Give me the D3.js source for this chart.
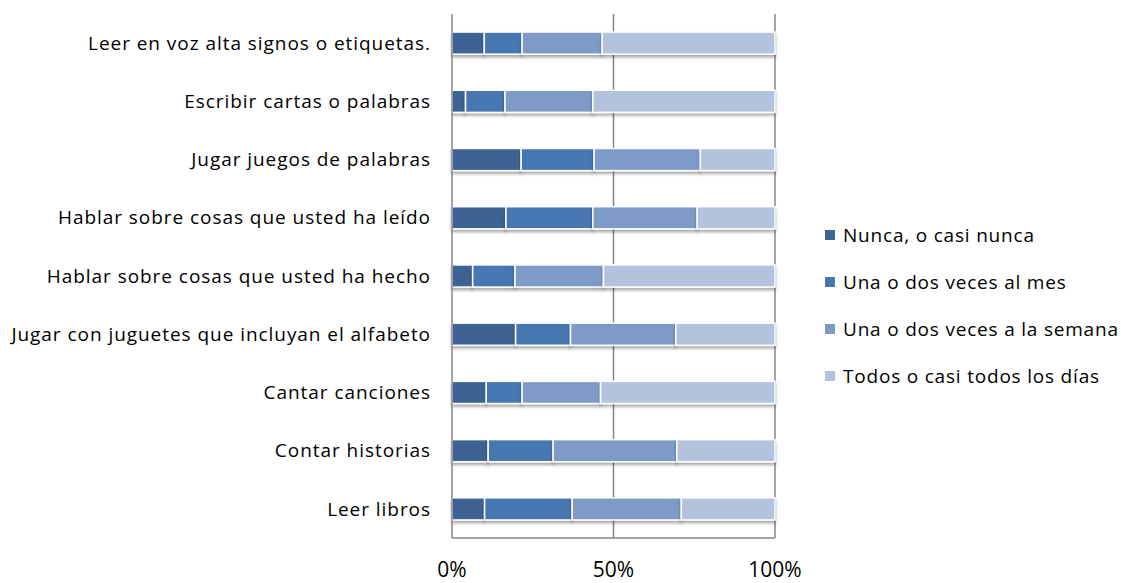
<!DOCTYPE html>
<html>
<head>
<meta charset="utf-8">
<script src="https://cdn.jsdelivr.net/npm/d3@7"></script>
<style>
  body { margin: 0; background: #fff; }
  text { font-family: "Open Sans", Lato, sans-serif; fill: #000; }
</style>
</head>
<body>
<div id="chart"></div>
<script>
// datos (porcentajes)
const categorias = [
  "Leer en voz alta signos o etiquetas.",
  "Escribir cartas o palabras",
  "Jugar juegos de palabras",
  "Hablar sobre cosas que usted ha leído",
  "Hablar sobre cosas que usted ha hecho",
  "Jugar con juguetes que incluyan el alfabeto",
  "Cantar canciones",
  "Contar historias",
  "Leer libros"
]
const series = ["Nunca, o casi nunca", "Una o dos veces al mes", "Una o dos veces a la semana", "Todos o casi todos los días"]
const nunca    = [10.0, 4.2, 21.4, 16.7, 6.4, 19.7, 10.6, 11.2, 10.1]
const alMes    = [11.7, 12.2, 22.6, 26.9, 13.1, 17.0, 11.1, 20.1, 27.1]
const aSemana  = [24.8, 27.2, 32.9, 32.3, 27.4, 32.6, 24.3, 38.3, 33.8]
const todos    = [53.5, 56.4, 23.1, 24.1, 53.1, 30.7, 54.0, 30.4, 29.0]
const ticks = [0, 50, 100]
const colores = ["#3c6494", "#4777b0", "#7e9bc8", "#b3c3de"]

const width = 1121
const height = 583
const margin = { top: 14, bottom: 45, left: 452, right: 346 }

const svg = d3.select("#chart").append("svg")
  .attr("width", width)
  .attr("height", height)

// sombra de las barras
const filtro = svg.append("defs").append("filter")
  .attr("id", "sombra").attr("x", "-5%").attr("y", "-20%").attr("width", "110%").attr("height", "160%")
filtro.append("feDropShadow")
  .attr("dx", 0).attr("dy", 2.5).attr("stdDeviation", 1.6)
  .attr("flood-color", "#000").attr("flood-opacity", 0.35)

const x = d3.scaleLinear().domain([0, 100]).range([margin.left, width - margin.right])
const y = d3.scaleBand().domain(categorias)
  .range([margin.top, height - margin.bottom])
  .paddingInner(0.62).paddingOuter(0.31)

// tabla apilada
const tabla = categorias.map((c, i) => ({ cat: c, s0: nunca[i], s1: alMes[i], s2: aSemana[i], s3: todos[i] }))
const stack = d3.stack().keys(["s0", "s1", "s2", "s3"])(tabla)

// rejilla
svg.append("g").selectAll("line").data(ticks.slice(1)).join("line")
  .attr("x1", d => x(d)).attr("x2", d => x(d))
  .attr("y1", margin.top).attr("y2", height - margin.bottom)
  .attr("stroke", "#868686").attr("stroke-width", 1.5)

// barras
svg.append("g").selectAll("g").data(stack).join("g")
  .attr("fill", (d, i) => colores[i])
  .selectAll("rect").data(d => d).join("rect")
  .attr("x", d => x(d[0]))
  .attr("y", d => y(d.data.cat))
  .attr("width", d => x(d[1]) - x(d[0]))
  .attr("height", y.bandwidth())
  .attr("stroke", "#fff").attr("stroke-width", 1.5)
  .attr("filter", "url(#sombra)")

// ejes
svg.append("line")
  .attr("x1", x(0)).attr("x2", x(0))
  .attr("y1", margin.top).attr("y2", height - margin.bottom)
  .attr("stroke", "#868686").attr("stroke-width", 1.5)
svg.append("line")
  .attr("x1", x(0)).attr("x2", x(100))
  .attr("y1", height - margin.bottom).attr("y2", height - margin.bottom)
  .attr("stroke", "#868686").attr("stroke-width", 1.5)

// etiquetas de categorías
svg.append("g").selectAll("text").data(categorias).join("text")
  .attr("x", 431)
  .attr("y", d => y(d) + y.bandwidth() / 2)
  .attr("dy", "0.35em")
  .attr("text-anchor", "end")
  .style("font-size", "19px")
  .style("letter-spacing", "0.95px")
  .text(d => d)

// etiquetas del eje x
svg.append("g").selectAll("text").data(ticks).join("text")
  .attr("x", d => x(d))
  .attr("y", 577)
  .attr("text-anchor", "middle")
  .style("font-size", "21px")
  .text(d => d + "%")

// leyenda
const leyenda = svg.append("g").selectAll("g").data(series).join("g")
  .attr("transform", (d, i) => `translate(825,${235 + i * 47})`)
leyenda.append("rect")
  .attr("x", 0).attr("y", -5).attr("width", 10).attr("height", 10)
  .attr("fill", (d, i) => colores[i])
leyenda.append("text")
  .attr("x", 18).attr("dy", "0.35em")
  .style("font-size", "19px")
  .style("letter-spacing", "0.8px")
  .text(d => d)
</script>
</body>
</html>
